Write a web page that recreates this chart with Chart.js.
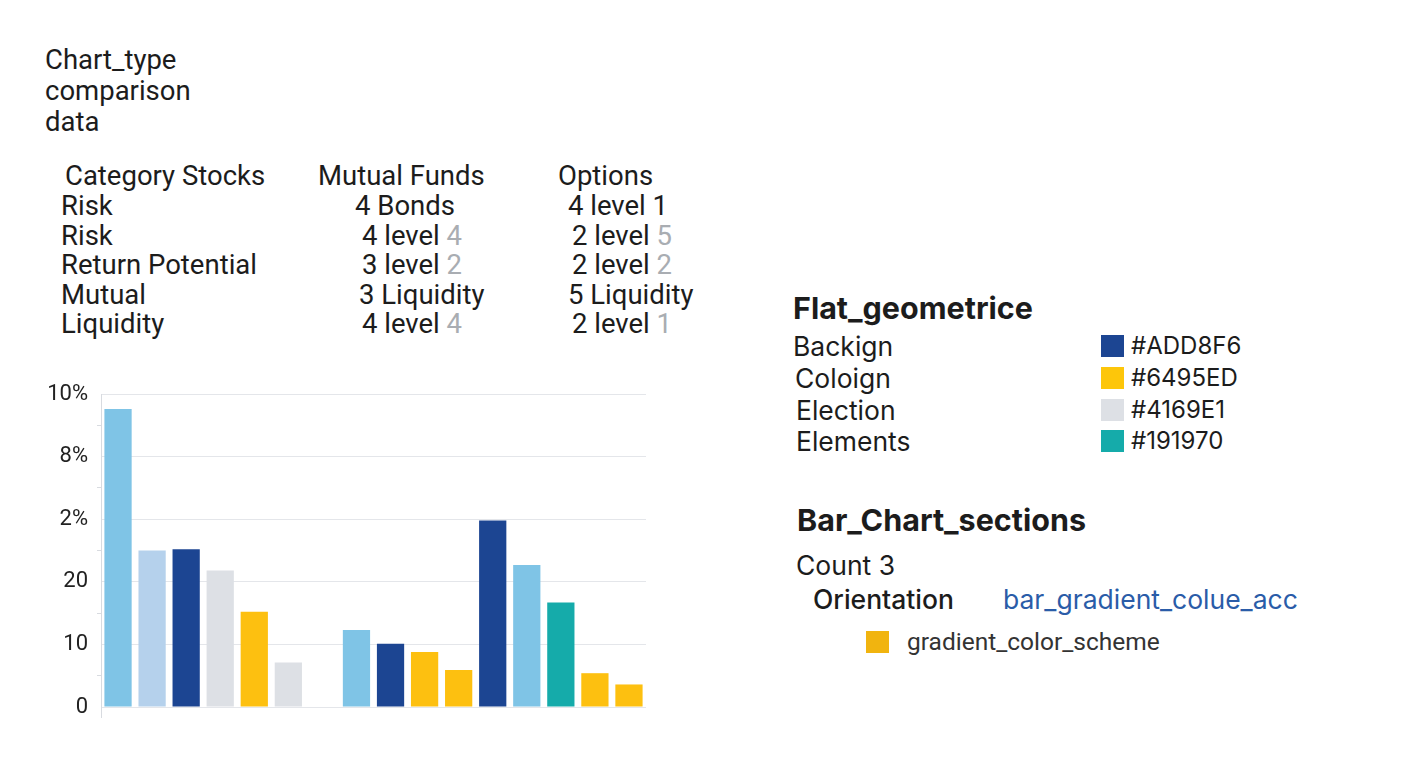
<!DOCTYPE html>
<html lang="en">
<head>
<meta charset="UTF-8">
<title>Chart_type comparison data</title>
<script src="https://cdn.jsdelivr.net/npm/chart.js"></script>
<style>
    html, body { margin: 0; padding: 0; background: #fff; }
    body { width: 1408px; height: 768px; position: relative; overflow: hidden; font-family: Roboto, sans-serif; color: #1c1c1c; }
    .abs { position: absolute; white-space: nowrap; line-height: 30px; }
    .title { left: 45px; top: 44px; font-size: 27.5px; line-height: 31px; }
    .tbl { font-size: 27.5px; line-height: 29.6px; }
    .dim { color: #a9adb2; }
    .r { font-family: Inter, sans-serif; }
    .head { font-weight: 700; font-size: 30.5px; }
    .lab { font-size: 26.5px; }
    .hex { font-size: 24px; }
    .sw { position: absolute; width: 23px; height: 22px; }
    .chart-box { position: absolute; left: 0; top: 370px; width: 656px; height: 360px; }
</style>
</head>
<body>
<div class="abs title">Chart_type<br>comparison<br>data</div>

<div class="abs tbl" style="left:65px; top:161px;">Category Stocks</div>
<div class="abs tbl" style="left:318px; top:161px;">Mutual Funds</div>
<div class="abs tbl" style="left:558px; top:161px;">Options</div>

<div class="abs tbl" style="left:61px; top:191px;">Risk<br>Risk<br>Return Potential<br>Mutual<br>Liquidity</div>
<div class="abs tbl" style="left:355px; top:191px;">4 Bonds</div>
<div class="abs tbl" style="left:362px; top:220.6px;">4 level <span class="dim">4</span></div>
<div class="abs tbl" style="left:362px; top:250.2px;">3 level <span class="dim">2</span></div>
<div class="abs tbl" style="left:359px; top:279.8px;">3 Liquidity</div>
<div class="abs tbl" style="left:362px; top:309.4px;">4 level <span class="dim">4</span></div>
<div class="abs tbl" style="left:568px; top:191px;">4 level 1</div>
<div class="abs tbl" style="left:572px; top:220.6px;">2 level <span class="dim">5</span></div>
<div class="abs tbl" style="left:572px; top:250.2px;">2 level <span class="dim">2</span></div>
<div class="abs tbl" style="left:568px; top:279.8px;">5 Liquidity</div>
<div class="abs tbl" style="left:572px; top:309.4px;">2 level <span class="dim">1</span></div>

<div class="abs r head" style="left:793px; top:293px;">Flat_geometrice</div>
<div class="abs r lab" style="left:793px; top:331px;">Backign</div>
<div class="abs r lab" style="left:795px; top:363px;">Coloign</div>
<div class="abs r lab" style="left:796px; top:395px;">Election</div>
<div class="abs r lab" style="left:796px; top:426px;">Elements</div>
<div class="sw" style="left:1101px; top:335px; background:#1c4592;"></div>
<div class="sw" style="left:1101px; top:367px; background:#fdc60a;"></div>
<div class="sw" style="left:1101px; top:399px; background:#dde0e5;"></div>
<div class="sw" style="left:1101px; top:430px; background:#15abaa;"></div>
<div class="abs r hex" style="left:1131px; top:331px;">#ADD8F6</div>
<div class="abs r hex" style="left:1131px; top:363px;">#6495ED</div>
<div class="abs r hex" style="left:1131px; top:395px;">#4169E1</div>
<div class="abs r hex" style="left:1131px; top:426px;">#191970</div>

<div class="abs r head" style="left:797px; top:505px;">Bar_Chart_sections</div>
<div class="abs r lab" style="left:796px; top:550px;">Count 3</div>
<div class="abs r lab" style="left:813px; top:584px; font-weight:500;">Orientation</div>
<div class="abs r lab" style="left:1003px; top:584px; color:#2a5ca8;">bar_gradient_colue_acc</div>
<div class="sw" style="left:866px; top:631px; background:#f1b40f;"></div>
<div class="abs" style="left:907px; top:627px; font-size:24.5px; color:#333;">gradient_color_scheme</div>

<div class="chart-box"><canvas id="barChart"></canvas></div>

<script>
// bar values (null = empty slot between the two groups)
const barLabels = ['b1', 'b2', 'b3', 'b4', 'b5', 'b6', '', 'b7', 'b8', 'b9', 'b10', 'b11', 'b12', 'b13', 'b14', 'b15'];
const barValues = [47.6, 25.0, 25.2, 21.8, 15.2, 7.1, null, 12.3, 10.1, 8.8, 5.9, 29.8, 22.7, 16.7, 5.4, 3.6];
const barColors = ['#7fc4e6', '#b5d1ec', '#1c4592', '#dde0e5', '#fdc010', '#dde0e5', '#ffffff',
    '#7fc4e6', '#1c4592', '#fdc010', '#fdc010', '#1c4592', '#7fc4e6', '#15abaa', '#fdc010', '#fdc010'];
// y tick labels exactly as printed, bottom to top
const yTickLabels = ['0', '10', '20', '2%', '8%', '10%'];

const ctx = document.getElementById('barChart').getContext('2d');
new Chart(ctx, {
    type: 'bar',
    data: {
        labels: barLabels,
        datasets: [{
            data: barValues,
            backgroundColor: barColors,
            borderWidth: 0,
            barPercentage: 0.8,
            categoryPercentage: 1
        }]
    },
    options: {
        responsive: true,
        maintainAspectRatio: false,
        animation: false,
        layout: { padding: { top: 24, bottom: 12, right: 10, left: 0 } },
        plugins: { legend: { display: false }, tooltip: { enabled: false } },
        scales: {
            x: {
                ticks: { display: false },
                border: { display: false },
                grid: {
                    drawOnChartArea: false,
                    tickLength: 11,
                    // only the first grid tick, which sits on the y axis, stays visible
                    tickColor: (c) => (c.index === 0 ? '#d8dbe0' : 'rgba(0,0,0,0)')
                },
                afterFit: (scale) => { scale.height = 11; }
            },
            y: {
                min: 0,
                max: 50,
                ticks: {
                    stepSize: 5,
                    padding: 9,
                    color: '#222',
                    font: { family: 'Roboto', size: 22 },
                    callback: (v) => (v % 10 === 0 ? yTickLabels[v / 10] : '')
                },
                grid: {
                    color: (c) => (c.tick && c.tick.value % 10 === 0 ? '#e4e6ea' : 'rgba(0,0,0,0)'),
                    tickColor: (c) => (c.tick && c.tick.value % 10 === 0 ? 'rgba(0,0,0,0)' : '#d8dbe0'),
                    tickLength: 4,
                    lineWidth: 1
                },
                border: { color: '#d8dbe0' },
                afterFit: (scale) => { scale.width = 101; }
            }
        }
    }
});
</script>
</body>
</html>
